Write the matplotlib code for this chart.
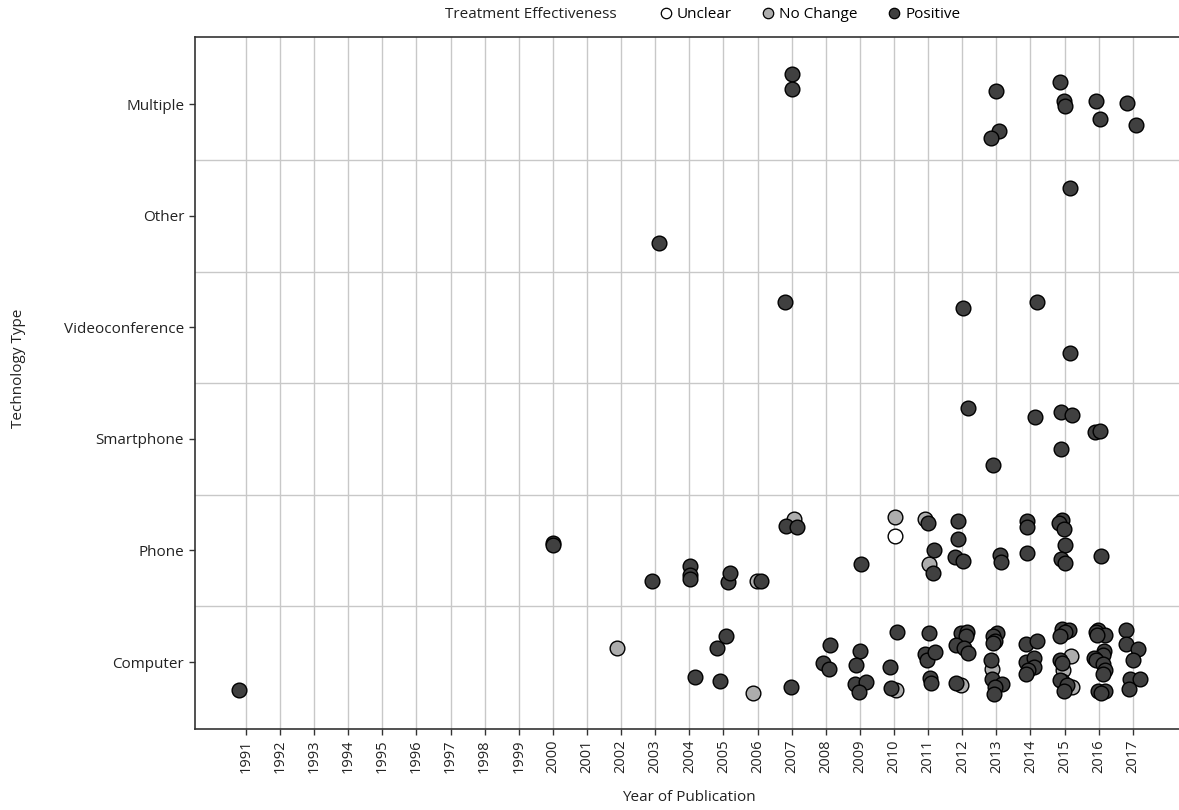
import matplotlib
matplotlib.use("Agg")
import matplotlib.pyplot as plt
from matplotlib.lines import Line2D

plt.rcParams["font.family"] = ["Open Sans", "DejaVu Sans"]

# technology categories, bottom to top
techs = ["Computer", "Phone", "Smartphone", "Videoconference", "Other", "Multiple"]
years = list(range(1991, 2018))

# ---- points: jittered year, category, vertical jitter ----
unclear_year = [2010.02]
unclear_tech = ["Phone"]
unclear_jit = [0.13]

nochange_year = [2007.07, 2005.98, 2010.02, 2010.91, 2011.03,
                 2001.89, 2005.86, 2010.06, 2011.96, 2012.88,
                 2015.18, 2014.95, 2014.92, 2015.21]
nochange_tech = ["Phone"] * 5 + ["Computer"] * 9
nochange_jit = [0.28, -0.27, 0.30, 0.28, -0.12,
                0.13, -0.28, -0.25, -0.21, -0.06,
                0.05, -0.07, -0.17, -0.22]

pos_multiple_year = [2007.02, 2007.02, 2013.0, 2013.07, 2012.83, 2014.87,
                     2014.97, 2015.01, 2015.91, 2016.05, 2016.84, 2017.1]
pos_multiple_jit = [0.27, 0.14, 0.12, -0.24, -0.30, 0.20,
                    0.03, -0.02, 0.03, -0.13, 0.01, -0.19]

pos_other_year = [2015.16, 2003.11]
pos_other_jit = [0.25, -0.24]

pos_video_year = [2006.81, 2012.03, 2014.2, 2015.16]
pos_video_jit = [0.23, 0.17, 0.23, -0.23]

pos_smart_year = [2012.18, 2012.89, 2014.14, 2014.88, 2015.21, 2014.9,
                  2015.9, 2016.04]
pos_smart_jit = [0.28, -0.23, 0.20, 0.24, 0.21, -0.09, 0.06, 0.07]

pos_phone_year = [2000.0, 2000.0, 2002.9, 2004.02, 2004.02, 2004.02,
                  2005.13, 2005.19, 2006.1, 2006.84, 2007.16, 2009.04,
                  2010.99, 2011.17, 2011.14, 2011.88, 2011.88, 2011.8,
                  2012.02, 2013.1, 2013.14, 2013.89, 2013.89, 2013.89,
                  2014.91, 2014.83, 2014.97, 2015.0, 2014.88, 2015.01,
                  2016.07]
pos_phone_jit = [0.07, 0.05, -0.27, -0.14, -0.22, -0.26,
                 -0.28, -0.20, -0.27, 0.22, 0.21, -0.12,
                 0.25, 0.0, -0.20, 0.26, 0.10, -0.06,
                 -0.09, -0.04, -0.10, 0.26, 0.21, -0.02,
                 0.27, 0.25, 0.19, 0.05, -0.08, -0.11,
                 -0.05]

pos_computer_year = [1990.8,
                     2004.17, 2004.8, 2005.08, 2004.91, 2006.98,
                     2008.13, 2007.93, 2008.1, 2009.0, 2008.89, 2008.85,
                     2009.18, 2008.96, 2010.08, 2009.88, 2009.91,
                     2011.02, 2010.92, 2010.96, 2011.21, 2011.06, 2011.09,
                     2011.96, 2012.13, 2012.11, 2011.82, 2012.04, 2012.16,
                     2011.82,
                     2013.01, 2012.91, 2012.96, 2012.91, 2012.85, 2012.88,
                     2013.16, 2012.96, 2012.94,
                     2013.86, 2014.2, 2013.86, 2014.09, 2014.11, 2013.94,
                     2013.87,
                     2014.92, 2015.12, 2015.02, 2014.87, 2014.87, 2014.92,
                     2014.87, 2015.06, 2014.99,
                     2015.99, 2015.92, 2016.19, 2015.96, 2016.16, 2016.12,
                     2015.85, 2015.92, 2016.12, 2016.19, 2016.12, 2015.99,
                     2016.19, 2016.06,
                     2016.81, 2016.81, 2017.15, 2017.0, 2016.92, 2017.22,
                     2016.89]
pos_computer_jit = [-0.25,
                    -0.13, 0.13, 0.23, -0.17, -0.22,
                    0.15, -0.01, -0.06, 0.10, -0.03, -0.20,
                    -0.18, -0.27, 0.27, -0.04, -0.23,
                    0.26, 0.07, 0.02, 0.09, -0.14, -0.19,
                    0.26, 0.27, 0.23, 0.15, 0.13, 0.08,
                    -0.19,
                    0.26, 0.23, 0.19, 0.17, 0.02, -0.15,
                    -0.20, -0.22, -0.29,
                    0.16, 0.19, 0.0, 0.04, -0.04, -0.07,
                    -0.11,
                    0.30, 0.29, 0.27, 0.23, 0.02, -0.01,
                    -0.16, -0.21, -0.26,
                    0.29, 0.27, 0.24, 0.24, 0.10, 0.06,
                    0.04, 0.02, -0.02, -0.07, -0.11, -0.26,
                    -0.26, -0.28,
                    0.29, 0.16, 0.12, 0.02, -0.15, -0.15,
                    -0.24]

positive_year = (pos_computer_year + pos_phone_year + pos_smart_year
                 + pos_video_year + pos_other_year + pos_multiple_year)
positive_tech = (["Computer"] * len(pos_computer_year)
                 + ["Phone"] * len(pos_phone_year)
                 + ["Smartphone"] * len(pos_smart_year)
                 + ["Videoconference"] * len(pos_video_year)
                 + ["Other"] * len(pos_other_year)
                 + ["Multiple"] * len(pos_multiple_year))
positive_jit = (pos_computer_jit + pos_phone_jit + pos_smart_jit
                + pos_video_jit + pos_other_jit + pos_multiple_jit)

colors = {"Unclear": "white", "No Change": "#adadad", "Positive": "#404040"}
groups = [
    ("No Change", nochange_year, nochange_tech, nochange_jit),
    ("Unclear", unclear_year, unclear_tech, unclear_jit),
    ("Positive", positive_year, positive_tech, positive_jit),
]

fig = plt.figure(figsize=(11.79, 8.10), dpi=100)
ax = fig.add_axes([0.1651, 0.1, 0.8377, 0.854])

for name, yr, tc, jit in groups:
    yy = [techs.index(t) + 1 + j for t, j in zip(tc, jit)]
    ax.scatter(yr, yy, s=112, c=colors[name], edgecolors="black",
               linewidths=1.0, zorder=3)

ax.set_xlim(1989.5, 2018.45)
ax.set_ylim(0.4, 6.6)
ax.set_xticks(years)
ax.set_xticklabels([str(y) for y in years], rotation=90, fontsize=10.5,
                   color="#222222")
ax.set_yticks(range(1, len(techs) + 1))
ax.set_yticklabels(techs, fontsize=11, color="#222222")
ax.tick_params(length=4, width=1, color="#333333")

# vertical grid on each year, horizontal lines between categories
for y in years:
    ax.axvline(y, color="#c8c8c8", lw=1.0, zorder=1)
for k in range(1, len(techs)):
    ax.axhline(k + 0.5, color="#c8c8c8", lw=1.0, zorder=1)

for side in ("left", "top", "bottom"):
    ax.spines[side].set_color("#333333")
    ax.spines[side].set_linewidth(1.2)
ax.spines["right"].set_visible(False)

ax.set_xlabel("Year of Publication", fontsize=11, color="#222222", labelpad=12)
ax.set_ylabel("Technology Type", fontsize=11, color="#222222")
ax.yaxis.set_label_coords(-0.171, 0.522)

# legend across the top, title to the left of the keys
fig.text(0.3774, 0.9815, "Treatment Effectiveness", fontsize=11,
         color="#222222", va="center")
labels = ["Unclear", "No Change", "Positive"]
handles = [Line2D([], [], ls="", marker="o", ms=7.5, mfc=colors[lb],
                  mec="black", mew=0.9) for lb in labels]
fig.legend(handles, labels, ncol=3,
           loc="center left", bbox_to_anchor=(0.561, 0.9815), frameon=False,
           fontsize=11, handlelength=0.55, handletextpad=0.45,
           columnspacing=2.1, borderaxespad=0, borderpad=0)

fig.savefig("out.png", dpi=100)
